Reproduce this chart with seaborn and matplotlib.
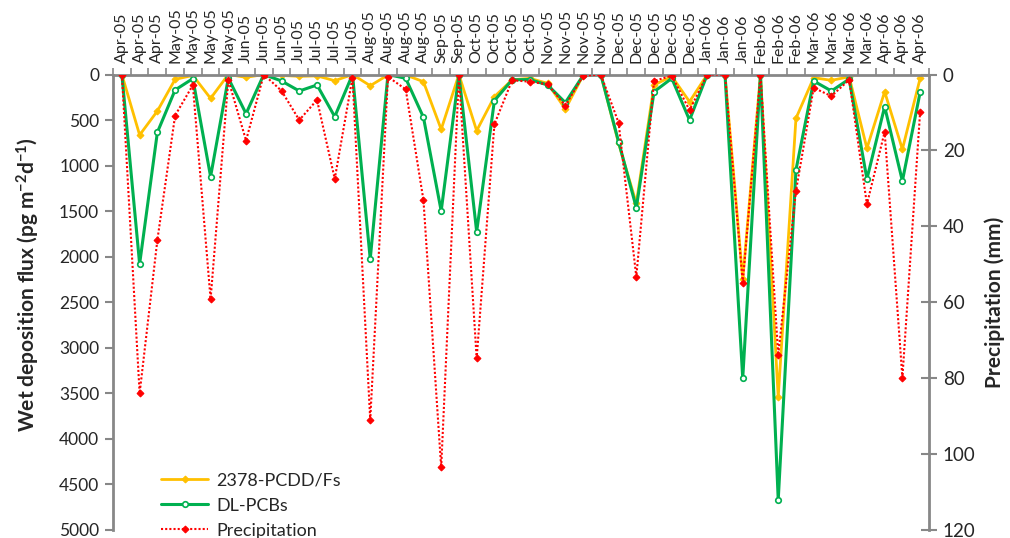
import matplotlib
matplotlib.use("Agg")
import matplotlib.pyplot as plt
import seaborn as sns
import pandas as pd
import numpy as np

months = (["Apr-05"] * 3 + ["May-05"] * 4 + ["Jun-05"] * 3 + ["Jul-05"] * 4 +
          ["Aug-05"] * 4 + ["Sep-05"] * 2 + ["Oct-05"] * 4 + ["Nov-05"] * 4 +
          ["Dec-05"] * 5 + ["Jan-06"] * 3 + ["Feb-06"] * 3 + ["Mar-06"] * 4 +
          ["Apr-06"] * 3)

pcdd = [0, 664, 401, 53, 10, 262, 0, 31, 0, 10,
        20, 15, 68, 0, 123, 5, 5, 79, 602, 0,
        617, 243, 58, 42, 97, 379, 10, 0, 755, 1414,
        115, 20, 298, 0, 0, 2250, 0, 3543, 481, 35,
        64, 25, 810, 189, 821, 42]

pcb = [0, 2080, 635, 170, 45, 1121, 40, 430, 0, 71,
       181, 115, 463, 0, 2025, 0, 42, 470, 1498, 0,
       1725, 287, 58, 55, 115, 309, 10, 0, 737, 1462,
       189, 42, 500, 0, 0, 3335, 0, 4671, 1048, 71,
       181, 50, 1147, 353, 1169, 195]

precip = [0, 84.0, 43.6, 10.8, 2.8, 59.2, 1.4, 17.4, 0, 4.3,
          12.0, 6.7, 27.5, 0.8, 91.0, 0.6, 3.9, 33.1, 103.5, 0.2,
          74.8, 13.1, 1.5, 1.9, 2.6, 8.2, 0.3, 0, 12.7, 53.3,
          1.7, 0.3, 9.4, 0, 0, 54.8, 0, 73.9, 30.7, 3.5,
          5.7, 1.4, 34.2, 15.1, 79.9, 9.8]

sns.set_style("white")
plt.rcParams['font.family'] = ['Lato', 'DejaVu Sans']
plt.rcParams['mathtext.fontset'] = 'custom'
plt.rcParams['mathtext.rm'] = 'Lato'
plt.rcParams['mathtext.bf'] = 'Lato:bold'
plt.rcParams['mathtext.default'] = 'bf'

df = pd.DataFrame({"idx": np.arange(len(months)), "PCDD": pcdd,
                   "PCB": pcb, "Precip": precip})

GRAY = "#878787"
fig = plt.figure(figsize=(10.1, 5.38), dpi=100)
ax = fig.add_axes([0.1119, 0.0149, 0.8079, 0.8466])
ax2 = ax.twinx()

sns.lineplot(data=df, x="idx", y="PCDD", ax=ax, color="#FFC000", lw=2,
             marker="D", ms=3.5, mec="#FFC000", mfc="#FFC000",
             label="2378-PCDD/Fs", legend=False)
sns.lineplot(data=df, x="idx", y="PCB", ax=ax, color="#00B050", lw=2.2,
             marker="o", ms=4, mec="#00B050", mfc="white", mew=1.2,
             label="DL-PCBs", legend=False)
sns.lineplot(data=df, x="idx", y="Precip", ax=ax2, color="#FF0000", lw=1.5,
             linestyle=(0, (1, 1)), marker="D", ms=3.5, mec="#FF0000",
             mfc="#FF0000", label="Precipitation", legend=False)

ax.set_xlim(-0.5, len(months) - 0.5)
ax.set_ylim(5000, 0)
ax2.set_ylim(120, 0)

ax.xaxis.tick_top()
ax.set_xticks(np.arange(len(months)))
ax.set_xticklabels(months, rotation=90, fontsize=11.5)
ax.set_xticks(np.arange(-0.5, len(months), 1), minor=True)
ax.tick_params(axis='x', which='major', length=0, pad=8, top=True, bottom=False)
ax.tick_params(axis='x', which='minor', length=5, width=1.2, color=GRAY,
               direction='out', top=True, bottom=False)
ax.set_xlabel("")

ax.set_yticks(np.arange(0, 5001, 500))
ax.tick_params(axis='y', which='major', labelsize=12.5, length=6, width=1.5,
               color=GRAY, direction='out', left=True, pad=4)
ax2.set_yticks(np.arange(0, 121, 20))
ax2.tick_params(axis='y', which='major', labelsize=13.5, length=12, width=1.5,
                color=GRAY, direction='inout', right=True, pad=4)

for name, sp in ax.spines.items():
    sp.set_color(GRAY)
    sp.set_linewidth(2)
ax.spines['bottom'].set_visible(False)
ax.spines['right'].set_visible(False)
for name, sp in ax2.spines.items():
    sp.set_visible(name == 'right')
    sp.set_color(GRAY)
    sp.set_linewidth(2)

ax.set_ylabel("Wet deposition flux (pg m$^{-2}$d$^{-1}$)", fontsize=15,
              fontweight='bold', va='center')
ax.yaxis.set_label_coords(-0.104, 0.54)
ax2.set_ylabel("Precipitation (mm)", fontsize=15, fontweight='bold',
               va='center', rotation=90)
ax2.yaxis.set_label_coords(1.081, 0.5)

handles = ax.get_lines() + ax2.get_lines()
handles = [h for h in handles if not h.get_label().startswith('_')]
leg = ax.legend(handles=handles, loc='lower left', bbox_to_anchor=(0.039, -0.055),
                frameon=False, fontsize=13, handlelength=2.6, labelspacing=0.5,
                handletextpad=0.45)

fig.savefig("out.png", dpi=100)
